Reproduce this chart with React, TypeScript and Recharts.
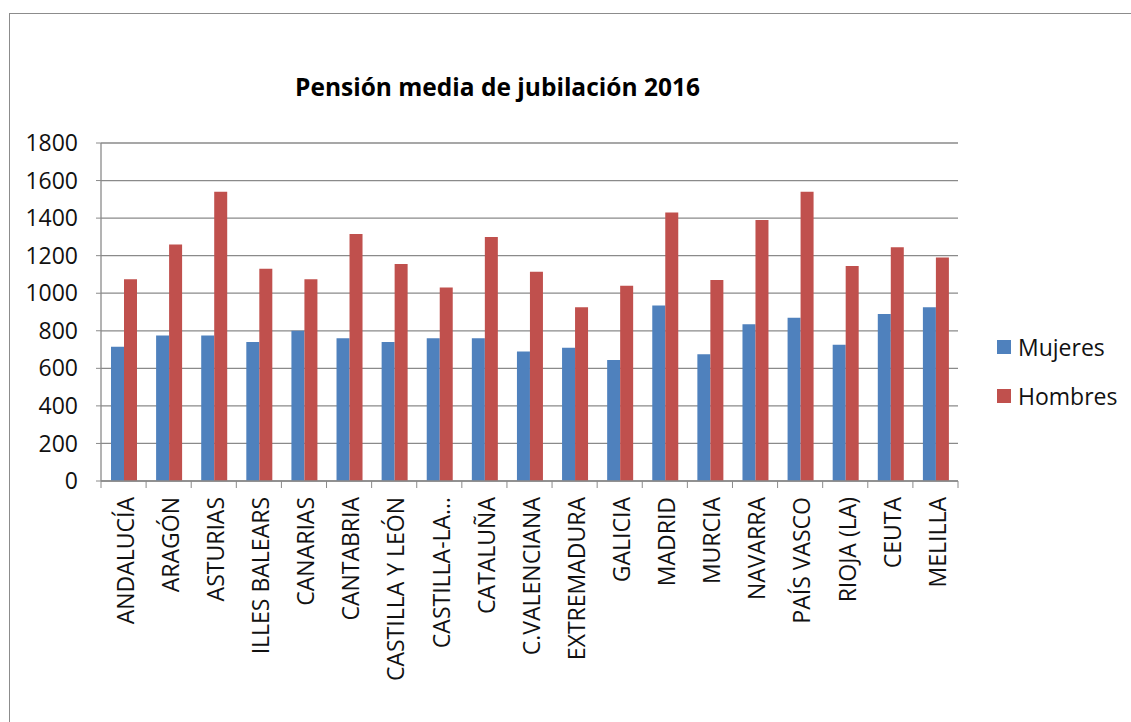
import { BarChart, Bar, XAxis, YAxis, CartesianGrid } from 'recharts'

const regiones = [
  'ANDALUCÍA', 'ARAGÓN', 'ASTURIAS', 'ILLES BALEARS', 'CANARIAS', 'CANTABRIA',
  'CASTILLA Y LEÓN', 'CASTILLA-LA MANCHA', 'CATALUÑA', 'C.VALENCIANA', 'EXTREMADURA',
  'GALICIA', 'MADRID', 'MURCIA', 'NAVARRA', 'PAÍS VASCO', 'RIOJA (LA)', 'CEUTA', 'MELILLA',
]
const mujeres = [715, 775, 775, 740, 800, 760, 740, 760, 760, 690, 710, 645, 935, 675, 835, 870, 725, 890, 925]
const hombres = [1075, 1260, 1540, 1130, 1075, 1315, 1155, 1030, 1300, 1115, 925, 1040, 1430, 1070, 1390, 1540, 1145, 1245, 1190]
const yTicks = [0, 200, 400, 600, 800, 1000, 1200, 1400, 1600, 1800]

const series = [
  { key: 'Mujeres', color: '#4F81BD' },
  { key: 'Hombres', color: '#C0504D' },
]

const data = regiones.map((r, i) => ({ region: r, Mujeres: mujeres[i], Hombres: hombres[i] }))

const FONT = '"Open Sans", sans-serif'
const GRID = '#8a8a8a'
const TEXT = '#111'

// Excel cuts long category names
const shorten = (s: string) => (s.length > 15 ? s.slice(0, 11) + '…' : s)

const RegionTick = (props: any) => {
  const { x, y, payload } = props
  const half = payload.offset ?? 858 / 19 / 2
  const last = payload.index === regiones.length - 1
  return (
    <g>
      <line x1={x - half} x2={x - half} y1={y} y2={y + 7} stroke={GRID} />
      {last && <line x1={x + half} x2={x + half} y1={y} y2={y + 7} stroke={GRID} />}
      <text
        transform={`translate(${x + 2},${y + 16}) rotate(-90)`}
        textAnchor="end"
        dy="0.36em"
        fill={TEXT}
        fontSize={23}
        fontFamily={FONT}
      >
        {shorten(payload.value)}
      </text>
    </g>
  )
}

export default function App() {
  return (
    <div style={{ position: 'absolute', left: 0, top: 0, width: 1131, height: 722, overflow: 'hidden', background: '#fff' }}>
      <div style={{ position: 'absolute', left: 9, top: 13, width: 1200, height: 800, border: '1px solid #8c8c8c' }} />
      <div style={{
        position: 'absolute', left: 0, width: 995, top: 70, textAlign: 'center',
        fontFamily: FONT, fontWeight: 700, fontSize: 24.5, color: '#000',
      }}>
        Pensión media de jubilación 2016
      </div>

      <div style={{ position: 'absolute', left: 0, top: 0 }}>
        <BarChart
          width={1131}
          height={722}
          data={data}
          barGap={0}
          margin={{ top: 143, right: 173, left: 0, bottom: 0 }}
        >
          <CartesianGrid vertical={false} stroke={GRID} strokeWidth={1.3} />
          <XAxis
            dataKey="region"
            interval={0}
            height={241}
            tickSize={0}
            tickMargin={0}
            tickLine={false}
            axisLine={{ stroke: GRID, strokeWidth: 1.3 }}
            tick={<RegionTick />}
          />
          <YAxis
            width={101}
            domain={[0, 1800]}
            ticks={yTicks}
            interval={0}
            tickSize={5}
            tickMargin={18}
            axisLine={{ stroke: GRID, strokeWidth: 1.3 }}
            tickLine={{ stroke: GRID }}
            tick={{ fill: TEXT, fontSize: 23, fontFamily: FONT }}
          />
          {series.map(s => (
            <Bar key={s.key} dataKey={s.key} fill={s.color} barSize={13} isAnimationActive={false} />
          ))}
        </BarChart>
      </div>

      {series.map((s, i) => (
        <div key={s.key} style={{ position: 'absolute', left: 997, top: 332 + i * 49, height: 30, display: 'flex', alignItems: 'center' }}>
          <span style={{ width: 14, height: 14, background: s.color, display: 'inline-block', marginRight: 7 }} />
          <span style={{ fontFamily: FONT, fontSize: 23, color: TEXT }}>{s.key}</span>
        </div>
      ))}
    </div>
  )
}
